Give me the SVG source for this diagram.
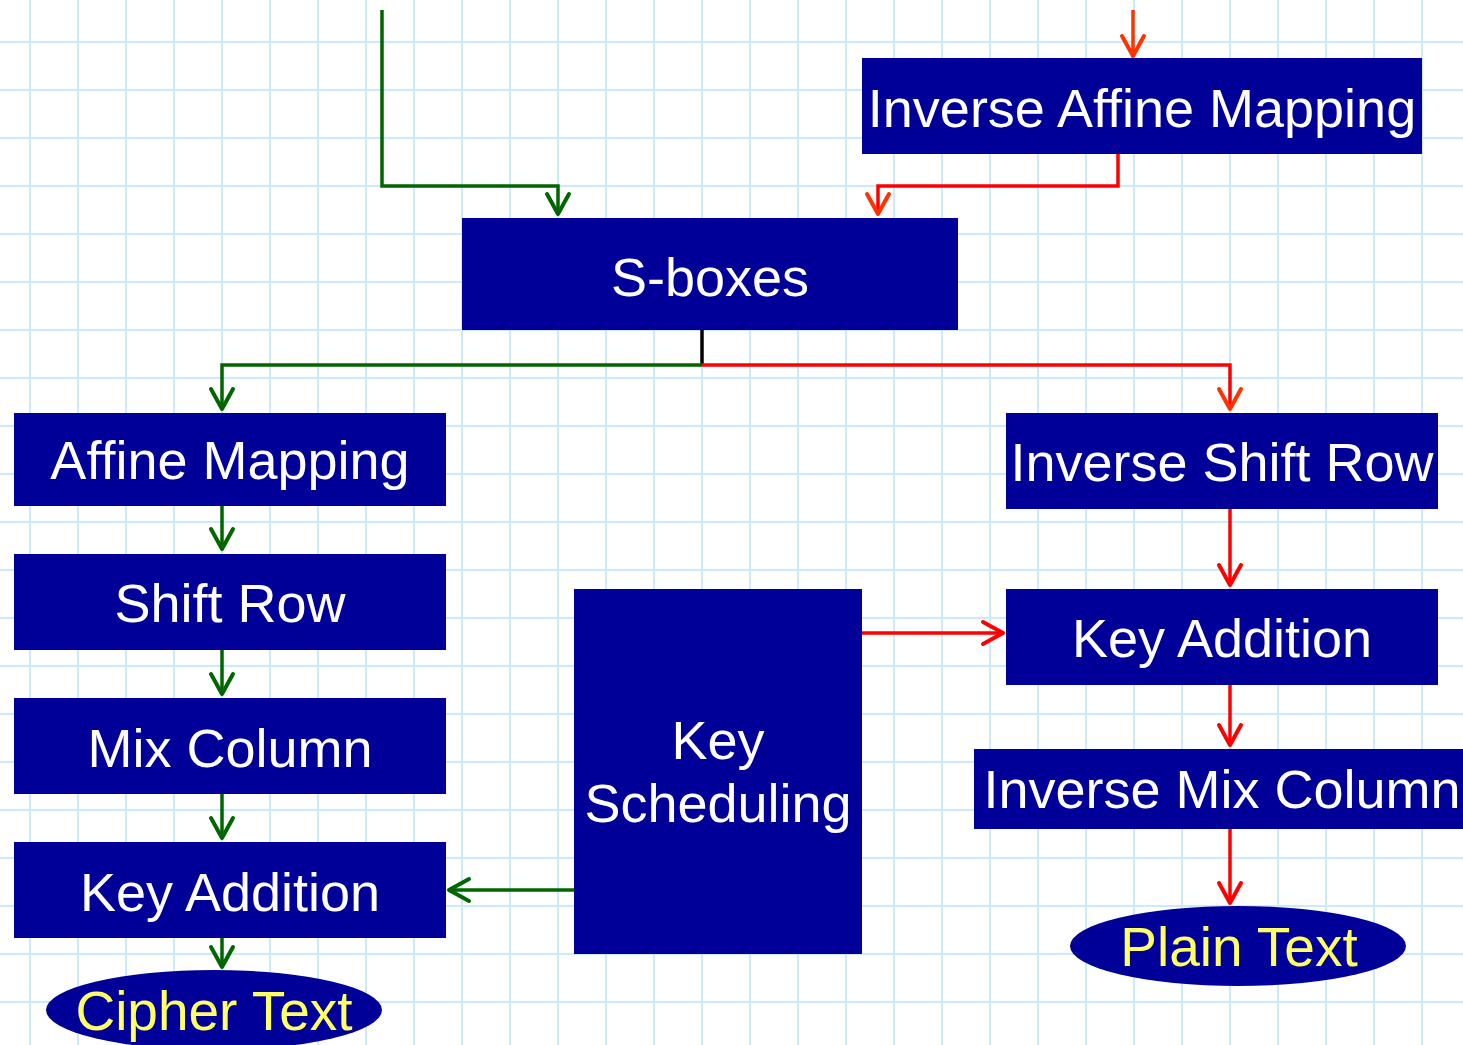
<svg xmlns="http://www.w3.org/2000/svg" width="1463" height="1045" viewBox="0 0 1463 1045">
  <defs>
    <pattern id="grid" patternUnits="userSpaceOnUse" x="0" y="0" width="48" height="48">
      <rect x="29" y="0" width="2" height="48" fill="#cdeafb"/>
      <rect x="0" y="41" width="48" height="2" fill="#cdeafb"/>
    </pattern>
    <marker id="ahGreen" markerUnits="userSpaceOnUse" orient="auto" refX="0" refY="0" markerWidth="30" markerHeight="30" viewBox="-24 -15 30 30" overflow="visible">
      <path d="M-20,-11 L0,0 L-20,11" fill="none" stroke="#006600" stroke-width="4" stroke-linecap="round" stroke-linejoin="round"/>
    </marker>
    <marker id="ahRed" markerUnits="userSpaceOnUse" orient="auto" refX="0" refY="0" markerWidth="30" markerHeight="30" viewBox="-24 -15 30 30" overflow="visible">
      <path d="M-20,-11 L0,0 L-20,11" fill="none" stroke="#ff0000" stroke-width="4" stroke-linecap="round" stroke-linejoin="round"/>
    </marker>
    <marker id="ahOrange" markerUnits="userSpaceOnUse" orient="auto" refX="0" refY="0" markerWidth="30" markerHeight="30" viewBox="-24 -15 30 30" overflow="visible">
      <path d="M-20,-11 L0,0 L-20,11" fill="none" stroke="#ff3300" stroke-width="4" stroke-linecap="round" stroke-linejoin="round"/>
    </marker>
  </defs>
  <style>
    .box { fill: #000099; }
    .lbl { font-family: "Liberation Sans", Arial, sans-serif; font-size: 54px; fill: #ffffff; text-anchor: middle; }
    .term { font-family: "Liberation Sans", Arial, sans-serif; font-size: 55px; fill: #ffff66; text-anchor: middle; }
    .g { fill: none; stroke: #006600; stroke-width: 3.5; marker-end: url(#ahGreen); }
    .r { fill: none; stroke: #ff0000; stroke-width: 3.5; marker-end: url(#ahRed); }
    .ro { fill: none; stroke: #ff0000; stroke-width: 3.5; marker-end: url(#ahOrange); }
  </style>

  <!-- paper background -->
  <rect x="0" y="0" width="1463" height="1045" fill="#ffffff"/>
  <rect x="0" y="0" width="1463" height="1045" fill="url(#grid)"/>

  <!-- connectors -->
  <g id="connectors">
    <polyline class="g" points="382,10 382,186 558,186 558,214"/>
    <line x1="1133" y1="10" x2="1133" y2="56" fill="none" stroke="#ff3300" stroke-width="3.5" marker-end="url(#ahOrange)"/>
    <polyline class="ro" points="1118,154 1118,186 878,186 878,214"/>
    <line x1="702" y1="330" x2="702" y2="366" stroke="#000000" stroke-width="3.5"/>
    <polyline class="g" points="702,365 222,365 222,409"/>
    <polyline class="ro" points="702,365 1230,365 1230,409"/>
    <line class="g" x1="222" y1="506" x2="222" y2="549"/>
    <line class="g" x1="222" y1="650" x2="222" y2="694"/>
    <line class="g" x1="222" y1="794" x2="222" y2="838"/>
    <line class="g" x1="222" y1="938" x2="222" y2="967"/>
    <line class="g" x1="574" y1="890" x2="449" y2="890"/>
    <line class="r" x1="862" y1="633" x2="1003" y2="633"/>
    <line class="r" x1="1230" y1="509" x2="1230" y2="585"/>
    <line class="r" x1="1230" y1="685" x2="1230" y2="745"/>
    <line class="r" x1="1230" y1="829" x2="1230" y2="903"/>
  </g>

  <!-- nodes -->
  <g id="inverse-affine-mapping">
    <rect class="box" x="862" y="58" width="560" height="96"/>
    <text class="lbl" x="1142" y="127">Inverse Affine Mapping</text>
  </g>
  <g id="s-boxes">
    <rect class="box" x="462" y="218" width="496" height="112"/>
    <text class="lbl" x="710" y="296">S-boxes</text>
  </g>
  <g id="affine-mapping">
    <rect class="box" x="14" y="413" width="432" height="93"/>
    <text class="lbl" x="230" y="479">Affine Mapping</text>
  </g>
  <g id="shift-row">
    <rect class="box" x="14" y="554" width="432" height="96"/>
    <text class="lbl" x="230" y="622">Shift Row</text>
  </g>
  <g id="mix-column">
    <rect class="box" x="14" y="698" width="432" height="96"/>
    <text class="lbl" x="230" y="767">Mix Column</text>
  </g>
  <g id="key-addition-enc">
    <rect class="box" x="14" y="842" width="432" height="96"/>
    <text class="lbl" x="230" y="911">Key Addition</text>
  </g>
  <g id="cipher-text">
    <ellipse class="box" cx="214" cy="1010" rx="168" ry="40"/>
    <text class="term" x="214" y="1030">Cipher Text</text>
  </g>
  <g id="key-scheduling">
    <rect class="box" x="574" y="589" width="288" height="365"/>
    <text class="lbl" x="718" y="759">Key</text>
    <text class="lbl" x="718" y="822">Scheduling</text>
  </g>
  <g id="inverse-shift-row">
    <rect class="box" x="1006" y="413" width="432" height="96"/>
    <text class="lbl" x="1222" y="481">Inverse Shift Row</text>
  </g>
  <g id="key-addition-dec">
    <rect class="box" x="1006" y="589" width="432" height="96"/>
    <text class="lbl" x="1222" y="657">Key Addition</text>
  </g>
  <g id="inverse-mix-column">
    <rect class="box" x="974" y="749" width="495" height="80"/>
    <text class="lbl" x="1222" y="808">Inverse Mix Column</text>
  </g>
  <g id="plain-text">
    <ellipse class="box" cx="1238" cy="946" rx="168" ry="40"/>
    <text class="term" x="1239" y="966">Plain Text</text>
  </g>
</svg>
